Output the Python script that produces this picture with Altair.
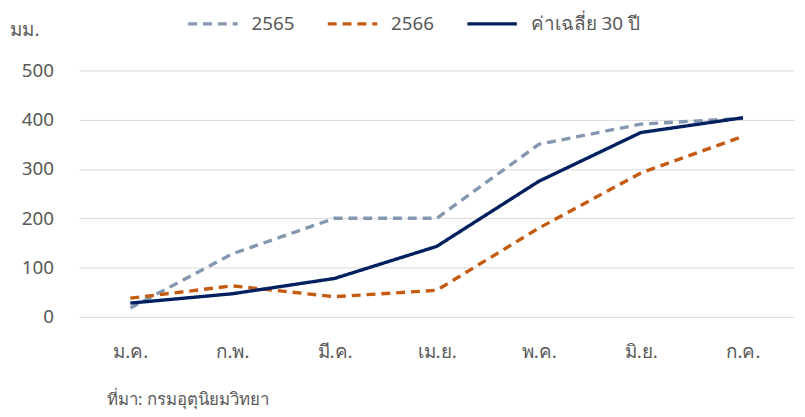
import altair as alt
import pandas as pd

months = ["ม.ค.", "ก.พ.", "มี.ค.", "เม.ย.", "พ.ค.", "มิ.ย.", "ก.ค."]
s2565 = [18, 128, 200, 200, 350, 391, 403]
s2566 = [38, 63, 41, 54, 180, 292, 366]
avg30 = [28, 47, 78, 143, 275, 374, 404]
series_names = ["2565", "2566", "ค่าเฉลี่ย 30 ปี"]
colors = ["#8497B0", "#C55A11", "#002060"]

rows = []
for name, vals in zip(series_names, [s2565, s2566, avg30]):
    for m, v in zip(months, vals):
        rows.append({"month": m, "value": v, "series": name})
df = pd.DataFrame(rows)

FONT = "Noto Sans"
GREY = "#595959"

legend_kw = dict(title=None, orient="none", legendX=108, legendY=-74,
                 direction="horizontal", symbolType="stroke",
                 symbolSize=2500, symbolStrokeWidth=3.4,
                 labelFontSize=19, labelColor=GREY, labelFont=FONT,
                 labelOffset=12, columnPadding=26, padding=0)

lines = alt.Chart(df).mark_line(strokeWidth=3.4).encode(
    x=alt.X("month:N", sort=months, scale=alt.Scale(paddingOuter=0.5),
            axis=alt.Axis(title=None, labelAngle=0, ticks=False, domain=False,
                          labelPadding=26, labelFontSize=19, labelColor=GREY, grid=False)),
    y=alt.Y("value:Q", scale=alt.Scale(domain=[0, 500], nice=False),
            axis=alt.Axis(title="มม.", titleAngle=0, titleX=-70, titleY=-41,
                          titleAlign="left", titleBaseline="middle",
                          titleFontSize=19, titleFontWeight="normal", titleColor=GREY,
                          values=[0, 100, 200, 300, 400, 500], ticks=False, domain=False,
                          labelPadding=26, labelFontSize=19, labelColor=GREY,
                          gridColor="#D9D9D9", gridWidth=1)),
    color=alt.Color("series:N", scale=alt.Scale(domain=series_names, range=colors),
                    legend=alt.Legend(**legend_kw)),
    strokeDash=alt.StrokeDash("series:N",
                              scale=alt.Scale(domain=series_names, range=[[9, 6], [9, 6], [1, 0]]),
                              legend=alt.Legend(**legend_kw)),
)

source = alt.Chart(pd.DataFrame({"t": ["ที่มา: กรมอุตุนิยมวิทยา"]})).mark_text(
    align="left", baseline="middle", fontSize=17, color=GREY, font=FONT
).encode(text="t:N", x=alt.value(28), y=alt.value(333))

chart = alt.layer(lines, source).properties(
    width=722, height=249,
    autosize=alt.AutoSizeParams(type="none"),
    padding={"left": 72, "top": 61, "right": 3, "bottom": 92},
).configure(font=FONT).configure_view(stroke=None)

chart.save("out.html", embed_options={"renderer": "svg", "actions": False})
